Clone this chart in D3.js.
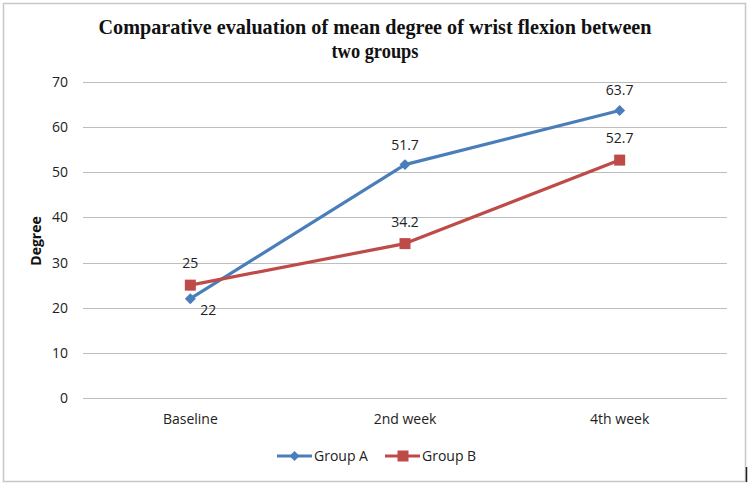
<!DOCTYPE html>
<html><head><meta charset="utf-8">
<script src="https://cdn.jsdelivr.net/npm/d3@7"></script>
<style>body{margin:0;background:#fff}svg{display:block}</style>
</head><body><svg id="c" width="750" height="486"></svg>
<script>
const categories = ["Baseline", "2nd week", "4th week"];
const groupA = [22, 51.7, 63.7];
const groupB = [25, 34.2, 52.7];
const seriesNames = ["Group A", "Group B"];
const yTicks = [0, 10, 20, 30, 40, 50, 60, 70];
const titleLines = ["Comparative evaluation of mean degree of wrist flexion between", "two groups"];

const svg = d3.select("#c");
const W = 750, H = 486;
const m = {l: 83, r: 23, t: 82, b: 88};
const font = "'Open Sans', 'Liberation Sans', sans-serif";

svg.append("rect").attr("x", 3.5).attr("y", 3.5).attr("width", 742).attr("height", 478)
  .attr("fill", "#fff").attr("stroke", "#c8c8c8").attr("stroke-width", 1.5);
svg.append("line").attr("x1", 746.5).attr("x2", 746.5).attr("y1", 467).attr("y2", 482)
  .attr("stroke", "#222").attr("stroke-width", 1.5);

const x = d3.scaleBand().domain(categories).range([m.l, W - m.r]);
const y = d3.scaleLinear().domain([0, 70]).range([H - m.b, m.t]);

// grid
svg.append("g").selectAll("line").data(yTicks).join("line")
  .attr("x1", m.l).attr("x2", W - m.r)
  .attr("y1", d => Math.round(y(d)) + 0.5).attr("y2", d => Math.round(y(d)) + 0.5)
  .attr("stroke", "#bdbdbd").attr("stroke-width", 1);

// y axis
const ya = svg.append("g").attr("transform", `translate(${m.l},0)`)
  .call(d3.axisLeft(y).tickValues(yTicks).tickSize(0).tickPadding(15));
ya.select(".domain").remove();
ya.selectAll("text").attr("font-family", font).attr("font-size", 14).attr("fill", "#222");

// x axis
const xa = svg.append("g").attr("transform", `translate(0,${H - m.b})`)
  .call(d3.axisBottom(x).tickSize(0).tickPadding(16));
xa.select(".domain").remove();
xa.selectAll("text").attr("font-family", font).attr("font-size", 14).attr("fill", "#222");

// y title
svg.append("text").attr("transform", "translate(41,241) rotate(-90)")
  .attr("text-anchor", "middle").attr("font-family", font).attr("font-weight", "bold")
  .attr("font-size", 14).attr("fill", "#111").text("Degree");

// title
svg.append("g").selectAll("text").data(titleLines).join("text")
  .attr("x", 375).attr("y", (d, i) => 34 + i * 24)
  .attr("text-anchor", "middle")
  .attr("font-family", "'Liberation Serif', 'Times New Roman', serif")
  .attr("font-weight", "bold").attr("font-size", 21).attr("fill", "#111")
  .attr("textLength", (d, i) => i === 0 ? 553 : 87)
  .attr("lengthAdjust", "spacingAndGlyphs")
  .text(d => d);

const cx = c => x(c) + x.bandwidth() / 2;
const line = d3.line().x((d, i) => cx(categories[i])).y(d => y(d));
const colors = ["#4a7ebb", "#be4b48"];
const data = [groupA, groupB];

data.forEach((vals, s) => {
  svg.append("path").datum(vals).attr("d", line).attr("fill", "none")
    .attr("stroke", colors[s]).attr("stroke-width", 3.2).attr("stroke-linejoin", "round");
});
// markers
svg.append("g").selectAll("path").data(groupA).join("path")
  .attr("transform", (d, i) => `translate(${cx(categories[i])},${y(d)})`)
  .attr("d", d3.symbol(d3.symbolSquare, 60)).attr("transform", (d, i) => `translate(${cx(categories[i])},${y(d)}) rotate(45)`)
  .attr("fill", colors[0]);
svg.append("g").selectAll("rect").data(groupB).join("rect")
  .attr("x", (d, i) => cx(categories[i]) - 5.5).attr("y", d => y(d) - 5.5)
  .attr("width", 11).attr("height", 11).attr("fill", colors[1]);

// data labels
svg.append("g").selectAll("text").data(groupA).join("text")
  .attr("x", (d, i) => cx(categories[i]) + (i === 0 ? 18 : 0))
  .attr("y", (d, i) => y(d) + (i === 0 ? 16 : -15))
  .attr("text-anchor", "middle").attr("font-family", font).attr("font-size", 14).attr("fill", "#222")
  .text(d => d);
svg.append("g").selectAll("text").data(groupB).join("text")
  .attr("x", (d, i) => cx(categories[i]))
  .attr("y", d => y(d) - 17)
  .attr("text-anchor", "middle").attr("font-family", font).attr("font-size", 14).attr("fill", "#222")
  .text(d => d);

// legend
const leg = svg.append("g");
const lx = [277, 385];
seriesNames.forEach((n, s) => {
  const g = leg.append("g").attr("transform", `translate(${lx[s]},456)`);
  g.append("line").attr("x1", 0).attr("x2", 35).attr("stroke", colors[s]).attr("stroke-width", 3.2);
  if (s === 0) g.append("path").attr("transform", "translate(17.5,0) rotate(45)").attr("d", d3.symbol(d3.symbolSquare, 50)).attr("fill", colors[0]);
  else g.append("rect").attr("x", 12.5).attr("y", -5.5).attr("width", 11).attr("height", 11).attr("fill", colors[1]);
  g.append("text").attr("x", 37).attr("y", 5).attr("font-family", font).attr("font-size", 14).attr("fill", "#222").text(n);
});
</script></body></html>
